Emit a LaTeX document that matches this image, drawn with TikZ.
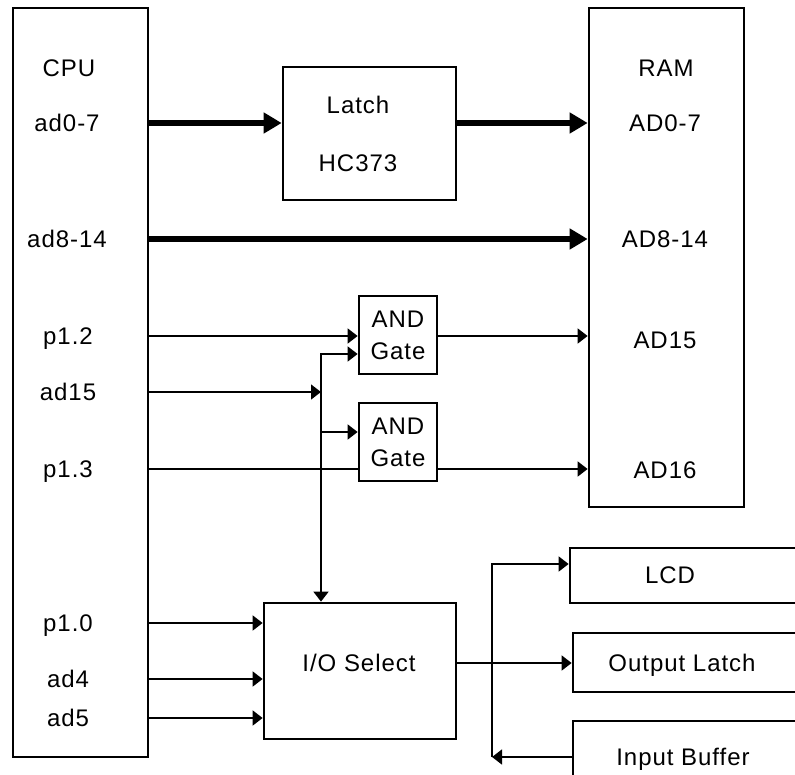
\documentclass[tikz,border=0pt]{standalone}
\usepackage{fontspec}
\setmainfont{Liberation Sans}[LetterSpace=4]
\usetikzlibrary{arrows.meta}
\tikzset{
  box/.style={draw,line width=2pt,inner sep=0pt},
  lbl/.style={inner sep=0pt,font=\fontsize{18}{22}\selectfont,text height=12.9pt,text depth=0pt},
  sig/.style={line width=1.9pt},
  bus/.style={line width=4pt,-{Triangle[length=13.5pt,width=15pt]}},
}
\begin{document}
\begin{tikzpicture}[x=0.75pt,y=-0.75pt,>={Triangle[length=7.5pt,width=11pt]}]
\clip (0,0) rectangle (795,774);
\node[box,minimum width=101.25pt,minimum height=561.75pt] (cpu) at (80.5,382.5) {};
\node[box,minimum width=116.25pt,minimum height=374.25pt] (ram) at (666.5,257.5) {};
\node[box,minimum width=129.75pt,minimum height=99.75pt] (latch) at (369.5,133.5) {};
\node[box,minimum width=58.5pt,minimum height=58.5pt,align=center,font=\fontsize{18}{24}\selectfont] (and1) at (398,335) {AND\\Gate};
\node[box,minimum width=58.5pt,minimum height=58.5pt,align=center,font=\fontsize{18}{24}\selectfont] (and2) at (398,442) {AND\\Gate};
\node[box,minimum width=144pt,minimum height=102pt] (io) at (360,671) {};
\node[box,minimum width=210pt,minimum height=41.25pt] (lcd) at (710,575.5) {};
\node[box,minimum width=207.75pt,minimum height=44.25pt] (outl) at (711.5,662.5) {};
\node[box,minimum width=207.75pt,minimum height=74.25pt] (inb) at (711.5,770.5) {};

\node[lbl] (cputitle) at (69,68) {CPU};
\node[lbl] (ad07) at (67,123) {ad0-7};
\node[lbl] (ad814) at (67,239) {ad8-14};
\node[lbl] (p12) at (68,336) {p1.2};
\node[lbl] (ad15) at (68,392) {ad15};
\node[lbl] (p13) at (68,469) {p1.3};
\node[lbl] (p10) at (68,623) {p1.0};
\node[lbl] (ad4) at (68,679) {ad4};
\node[lbl] (ad5) at (68,718) {ad5};

\node[lbl] (ramtitle) at (666,68) {RAM};
\node[lbl] (AD07) at (665,123) {AD0-7};
\node[lbl] (AD814) at (665,239) {AD8-14};
\node[lbl] (AD15) at (665,340) {AD15};
\node[lbl] (AD16) at (665,470) {AD16};

\node[lbl] (latchtitle) at (358,105) {Latch};
\node[lbl] (hc) at (358,163) {HC373};
\node[lbl] (iotitle) at (359,663) {I/O Select};
\node[lbl] (lcdtitle) at (670,575) {LCD};
\node[lbl] (outtitle) at (682,663) {Output Latch};
\node[lbl] (inbtitle) at (683,757) {Input Buffer};

\coordinate (jn) at (321,354);
\coordinate (br) at (321,432);
\coordinate (bt) at (492,564);
\coordinate (bb) at (492,757);

\draw[bus] (cpu.east |- ad07) -- (latch.west |- ad07);
\draw[bus] (latch.east |- AD07) -- (ram.west |- AD07);
\draw[bus] (cpu.east |- ad814) -- (ram.west |- ad814);
\draw[sig,->] (cpu.east |- p12) -- (and1.west |- p12);
\draw[sig,->] (cpu.east |- ad15) -- (jn |- ad15);
\draw[sig,<->] (and1.west |- jn) -- (jn) -- (jn |- io.north);
\draw[sig,->] (br) -- (and2.west |- br);
\draw[sig] (cpu.east |- p13) -- (and2.west |- p13);
\draw[sig,->] (and1.east |- p12) -- (ram.west |- p12);
\draw[sig,->] (and2.east |- p13) -- (ram.west |- p13);
\draw[sig,->] (cpu.east |- p10) -- (io.west |- p10);
\draw[sig,->] (cpu.east |- ad4) -- (io.west |- ad4);
\draw[sig,->] (cpu.east |- ad5) -- (io.west |- ad5);
\draw[sig,->] (io.east |- iotitle) -- (outl.west |- iotitle);
\draw[sig,->] (bb) -- (bt) -- (lcd.west |- bt);
\draw[sig,->] (inb.west |- bb) -- (bb);
\end{tikzpicture}
\end{document}
